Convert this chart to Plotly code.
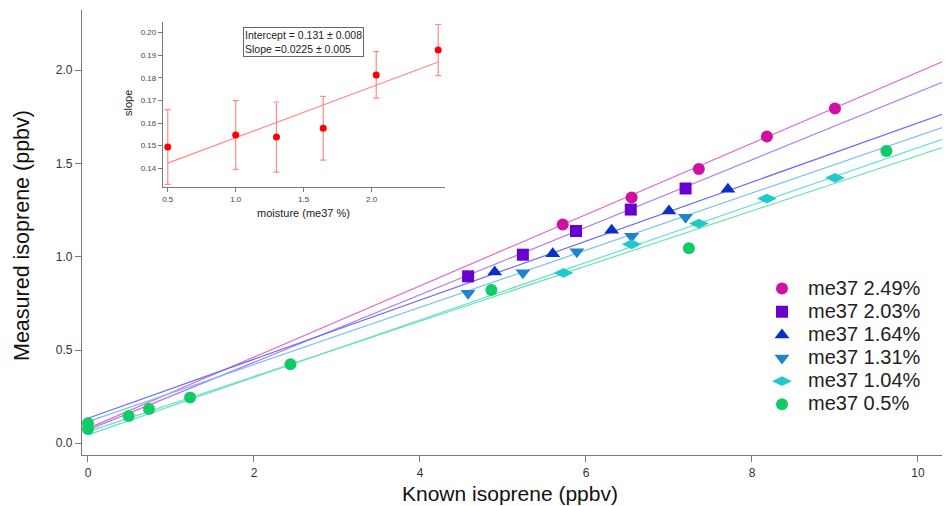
import plotly.graph_objects as go

# ---------------- data ----------------
series_names = ["me37 2.49%", "me37 2.03%", "me37 1.64%", "me37 1.31%", "me37 1.04%", "me37 0.5%"]

x_249 = [5.72, 6.55, 7.36, 8.18, 9.00]
y_249 = [1.173, 1.318, 1.471, 1.645, 1.795]

x_203 = [4.58, 5.24, 5.88, 6.54, 7.20]
y_203 = [0.895, 1.011, 1.138, 1.253, 1.366]

x_164 = [4.90, 5.60, 6.31, 7.00, 7.71]
y_164 = [0.918, 1.016, 1.142, 1.245, 1.362]

x_131 = [4.58, 5.24, 5.89, 6.55, 7.20]
y_131 = [0.804, 0.914, 1.027, 1.110, 1.212]

x_104 = [5.73, 6.55, 7.36, 8.18, 9.00]
y_104 = [0.913, 1.067, 1.178, 1.312, 1.423]

x_050 = [0.0, 0.0, 0.49, 0.735, 1.23, 2.44, 4.86, 7.24, 9.62]
y_050 = [0.107, 0.077, 0.146, 0.184, 0.245, 0.424, 0.822, 1.045, 1.567]

fit_slopes = [0.191, 0.181, 0.1583, 0.1532, 0.154, 0.148]
fit_intercepts = [0.080, 0.072, 0.134, 0.116, 0.045, 0.062]

# inset data
moisture = [0.5, 1.0, 1.30, 1.644, 2.034, 2.49]
slope_vals = [0.1494, 0.1547, 0.1538, 0.1577, 0.1813, 0.1923]
slope_err = [0.0165, 0.0152, 0.0155, 0.0141, 0.0103, 0.0113]
inset_intercept = 0.131
inset_slope = 0.0225

x_title = "Known isoprene (ppbv)"
y_title = "Measured isoprene (ppbv)"
inset_x_title = "moisture (me37 %)"
inset_y_title = "slope"
fit_text = "Intercept = 0.131 ± 0.008<br>Slope =0.0225 ± 0.005"

# ---------------- styles ----------------
marker_colors = ["#D010A0", "#6A00D0", "#0A30C8", "#1E84CC", "#22C8CC", "#10CC66"]
line_colors = ["#E468CC", "#B07CF0", "#6C6CF6", "#78C2F0", "#66DEDE", "#74E2A8"]
symbols = ["circle", "square", "triangle-up", "triangle-down", "diamond-wide", "circle"]
sizes = [12, 12, 13, 13, 14, 12]

xs = [x_249, x_203, x_164, x_131, x_104, x_050]
ys = [y_249, y_203, y_164, y_131, y_104, y_050]

X_RANGE = [-0.072, 10.386]
Y_RANGE = [-0.063, 2.323]

fig = go.Figure()

# fit lines
for i in range(len(series_names)):
    lx = [0.0, X_RANGE[1]]
    ly = [fit_intercepts[i] + fit_slopes[i] * v for v in lx]
    fig.add_trace(go.Scatter(x=lx, y=ly, mode="lines",
                             line=dict(color=line_colors[i], width=1.2),
                             showlegend=False, hoverinfo="skip",
                             xaxis="x", yaxis="y"))

# markers
for i in range(len(series_names)):
    fig.add_trace(go.Scatter(x=xs[i], y=ys[i], mode="markers",
                             name='<span style="font-size:20px">' + series_names[i] + '</span>',
                             marker=dict(color=marker_colors[i], symbol=symbols[i],
                                         size=sizes[i], line=dict(width=0)),
                             xaxis="x", yaxis="y"))

# inset fit line
ix = [moisture[0], moisture[-1]]
iy = [inset_intercept + inset_slope * v for v in ix]
fig.add_trace(go.Scatter(x=ix, y=iy, mode="lines",
                         line=dict(color="#FF8A8A", width=1.2),
                         showlegend=False, xaxis="x2", yaxis="y2"))
fig.add_trace(go.Scatter(x=moisture, y=slope_vals, mode="markers",
                         marker=dict(color="#FF0000", size=7),
                         error_y=dict(type="data", array=slope_err, visible=True,
                                      color="#FF8A8A", thickness=1.2, width=3),
                         showlegend=False, xaxis="x2", yaxis="y2"))

axis_common = dict(showline=True, linecolor="#7a7a7a", linewidth=1.3, automargin=False,
                   ticks="outside", tickcolor="#7a7a7a", showgrid=False, zeroline=False)

# page body has an 8px margin; figure is sized to fit the 950x506 window
OFF = 8
FW, FH = 950 - OFF, 506 - OFF
# plot area in page pixels: left 82, right 950, top 10, bottom 455
L, R, T, B = 82 - OFF, 0, 10 - OFF, FH - (455 - OFF)
PW, PH = FW - L - R, FH - T - B

def px_to_paper(px, py):
    fx, fy = px - OFF, py - OFF
    return (fx - L) / PW, (FH - B - fy) / PH

annotations = []
ax, ay = px_to_paper(510, 493)
annotations.append(dict(xref="paper", yref="paper", x=ax, y=ay, xanchor="center", yanchor="middle",
                        text=x_title, showarrow=False, font=dict(size=21, color="#111")))
ax, ay = px_to_paper(22, 236)
annotations.append(dict(xref="paper", yref="paper", x=ax, y=ay, xanchor="center", yanchor="middle",
                        text=y_title, textangle=-90, showarrow=False, font=dict(size=21.5, color="#111")))
ax, ay = px_to_paper(303, 213)
annotations.append(dict(xref="paper", yref="paper", x=ax, y=ay, xanchor="center", yanchor="middle",
                        text=inset_x_title, showarrow=False, font=dict(size=11, color="#222")))
ax, ay = px_to_paper(128, 103)
annotations.append(dict(xref="paper", yref="paper", x=ax, y=ay, xanchor="center", yanchor="middle",
                        text=inset_y_title, textangle=-90, showarrow=False, font=dict(size=11, color="#222")))
ax, ay = px_to_paper(243, 27)
annotations.append(dict(xref="paper", yref="paper", x=ax, y=ay, xanchor="left", yanchor="top",
                        align="left", showarrow=False, text=fit_text,
                        font=dict(size=10.5, color="#222"),
                        bordercolor="#666", borderwidth=1, borderpad=1, bgcolor="white"))

lx0, ly0 = px_to_paper(756, 272)
ix0, iy1 = px_to_paper(163, 22)
ix1, iy0 = px_to_paper(445, 187)

fig.update_layout(
    width=FW, height=FH,
    margin=dict(l=L, r=R, t=T, b=B),
    paper_bgcolor="white", plot_bgcolor="white",
    font=dict(family="Liberation Sans, Arial, sans-serif", color="#222"),
    xaxis=dict(domain=[0, 1], range=X_RANGE, tickvals=[0, 2, 4, 6, 8, 10],
               ticklen=6, tickfont=dict(size=12, color="#333"), **axis_common),
    yaxis=dict(domain=[0, 1], range=Y_RANGE, tickvals=[0, 0.5, 1.0, 1.5, 2.0],
               tickformat=".1f", ticklen=6, tickfont=dict(size=12, color="#333"), **axis_common),
    xaxis2=dict(domain=[ix0, ix1], range=[0.465, 2.54], anchor="y2",
                tickvals=[0.5, 1.0, 1.5, 2.0], tickformat=".1f", ticklen=4,
                tickfont=dict(size=8, color="#444"), **axis_common),
    yaxis2=dict(domain=[iy0, iy1], range=[0.1317, 0.2047], anchor="x2",
                tickvals=[0.14, 0.15, 0.16, 0.17, 0.18, 0.19, 0.20], tickformat=".2f", ticklen=4,
                tickfont=dict(size=8, color="#444"), **axis_common),
    legend=dict(x=lx0, y=ly0, xanchor="left", yanchor="top",
                bgcolor="rgba(0,0,0,0)", font=dict(size=15.5, color="#222"),
                itemwidth=42, tracegroupgap=0),
    annotations=annotations,
)

fig.write_html("out.html")
